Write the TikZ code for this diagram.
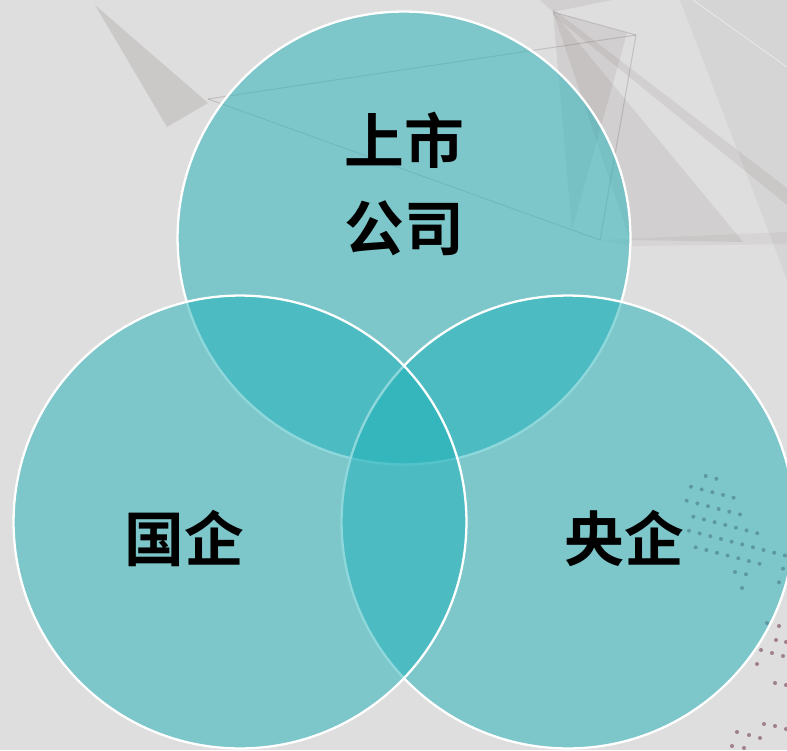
\documentclass[tikz,border=0pt]{standalone}
\usepackage{fontspec}
\usepackage{xcolor}
\newfontfamily\cjk{Noto Sans CJK SC}[BoldFont={Noto Sans CJK SC Bold}]
\usetikzlibrary{positioning}
\definecolor{bgGray}{HTML}{DEDEDE}
\definecolor{vennTeal}{RGB}{30,178,186}
\definecolor{decoGray}{RGB}{120,105,105}
\definecolor{dotPink}{RGB}{160,128,138}
\tikzset{
venn/.style={circle,draw=white,line width=1.3pt,fill=vennTeal,fill opacity=0.5,minimum size=9.06cm,inner sep=0pt},
vennname/.style={font=\cjk\bfseries\fontsize{34}{49}\selectfont,text=black,align=center,inner sep=0pt},
deco/.style={fill=decoGray,fill opacity=0.12},
decoline/.style={draw=decoGray,draw opacity=0.25,line width=0.6pt}
}
\begin{document}
\begin{tikzpicture}[x=0.02cm,y=-0.02cm]
\useasboundingbox (0,0) rectangle (787,750);
\clip (0,0) rectangle (787,750);
\fill[bgGray] (0,0) rectangle (787,750);
\fill[deco,fill opacity=0.18] (95,5) -- (167,127) -- (208,103) -- cycle;
\draw[decoline] (208,99) -- (636,35);
\draw[decoline] (208,99) -- (600,240);
\fill[deco] (540,0) -- (553,12) -- (612,0) -- cycle;
\fill[deco] (553,12) -- (627,33) -- (572,230) -- cycle;
\fill[deco] (553,12) -- (630,240) -- (743,242) -- cycle;
\fill[deco] (553,9) -- (787,188) -- (787,205) -- (553,15) -- cycle;
\draw[decoline] (636,35) -- (600,240);
\draw[decoline] (553,12) -- (636,35);
\fill[deco,fill opacity=0.07] (680,0) -- (787,0) -- (787,280) -- cycle;
\draw[white,opacity=0.5] (693,0) -- (787,67);
\fill[deco,fill opacity=0.08] (600,240) -- (787,232) -- (787,244) -- (630,246) -- cycle;
\foreach \x/\y/\n in {705.7/476/2,691/486.7/5,686.7/500.7/6,693.3/516.7/7,689/530.7/10,695.7/547.3/7}
  \foreach \i in {1,...,\n}
    \fill[dotPink] (\x+10.65*\i-10.65,\y+2.75*\i-2.75) circle (1.15pt);
\foreach \x/\y in {735/572,746/574.3,742/588,783/568.7,779/582.3,767/623,779/626,776/640,786/642,761/650,772/653,783/656,757/664,775/683,786/685,764/724,775/726,786/729,737/732,749/735,760/738,732/746,744/748}
  \fill[dotPink] (\x,\y) circle (1.15pt);
\node[venn] (listed) at (404,238) {};
\node[venn] (central) at (568,522) {};
\node[venn] (state) at (240,522) {};
\node[vennname] (listedname) at (404,184) {上市\\公司};
\node[vennname] (statename) at (184,538) {国企};
\node[vennname] (centralname) at (624,538) {央企};
\end{tikzpicture}
\end{document}
